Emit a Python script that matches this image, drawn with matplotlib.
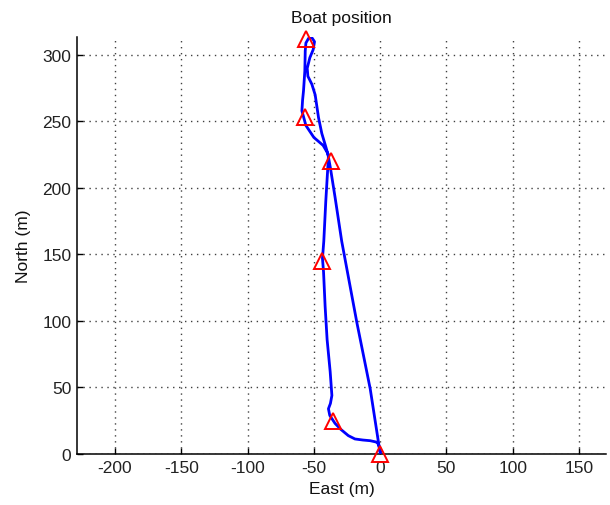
import matplotlib
matplotlib.use("Agg")
import matplotlib.pyplot as plt

# Boat track (East, North) in metres
east = [0, -1.3, -7.5, -17.6, -29, -34, -37.5, -39.5,
        -43, -50, -56, -59, -58.5, -57.8, -56.8, -56.5, -56, -54, -51.5, -49.5,
        -50.5, -53, -55, -54.5, -51.5, -49, -46.5, -44, -41, -39, -39.5,
        -41, -42.5, -43.5, -42.7, -41.5, -40, -37.7, -36.4, -37.5, -39, -38,
        -34, -30, -24, -19, -13, -7.5, -3, -1.3, 0]
north = [1, 9, 49, 99, 160, 193, 215, 226,
         232, 238, 247, 258, 266, 273, 288, 303, 309, 312.5, 313, 310,
         304, 298, 290, 284, 278, 270, 253, 241, 231, 224, 215,
         190, 160, 147, 137, 111, 86, 62, 44, 38, 34, 29,
         23, 18.8, 13.8, 11.3, 10.5, 10, 9, 7.5, 2]

# Waypoints
wp_east = [0, -35.6, -44.2, -37.4, -56.9, -55.9]
wp_north = [0, 25, 145.3, 220.5, 253, 312]

x_ticks = [-200, -150, -100, -50, 0, 50, 100, 150]
y_ticks = [0, 50, 100, 150, 200, 250, 300]

plt.rcParams['font.family'] = ['Liberation Sans', 'DejaVu Sans']
plt.rcParams['axes.unicode_minus'] = False

fig = plt.figure(figsize=(6.10, 5.06), dpi=100)
ax = fig.add_axes([77/610, 51/506, 529/610, 417/506])

ax.plot(east, north, color='#0000ff', lw=2.0, zorder=3)
ax.plot(wp_east, wp_north, linestyle='none', marker='^', markersize=12,
        markerfacecolor='none', markeredgecolor='#ff0000', markeredgewidth=1.4,
        zorder=4, clip_on=False)

ax.set_xlim(-228.6, 170.3)
ax.set_ylim(0, 313.5)
ax.set_xticks(x_ticks)
ax.set_yticks(y_ticks)

for s in ['top', 'right']:
    ax.spines[s].set_visible(False)
for s in ['left', 'bottom']:
    ax.spines[s].set_linewidth(1.1)
    ax.spines[s].set_color('black')

ax.grid(True, color='0.25', linestyle=(0, (1, 3.3)), linewidth=1.0)
ax.set_axisbelow(True)
ax.tick_params(direction='in', length=4, width=1.0, labelsize=12.5,
               labelcolor='#222222', pad=4)

ax.set_title('Boat position', fontsize=12.5, color='#111111', pad=11)
ax.set_xlabel('East (m)', fontsize=12.5, color='#111111', labelpad=5)
ax.set_ylabel('North (m)', fontsize=12.5, color='#111111', labelpad=8)

fig.savefig('out.png', dpi=100)
